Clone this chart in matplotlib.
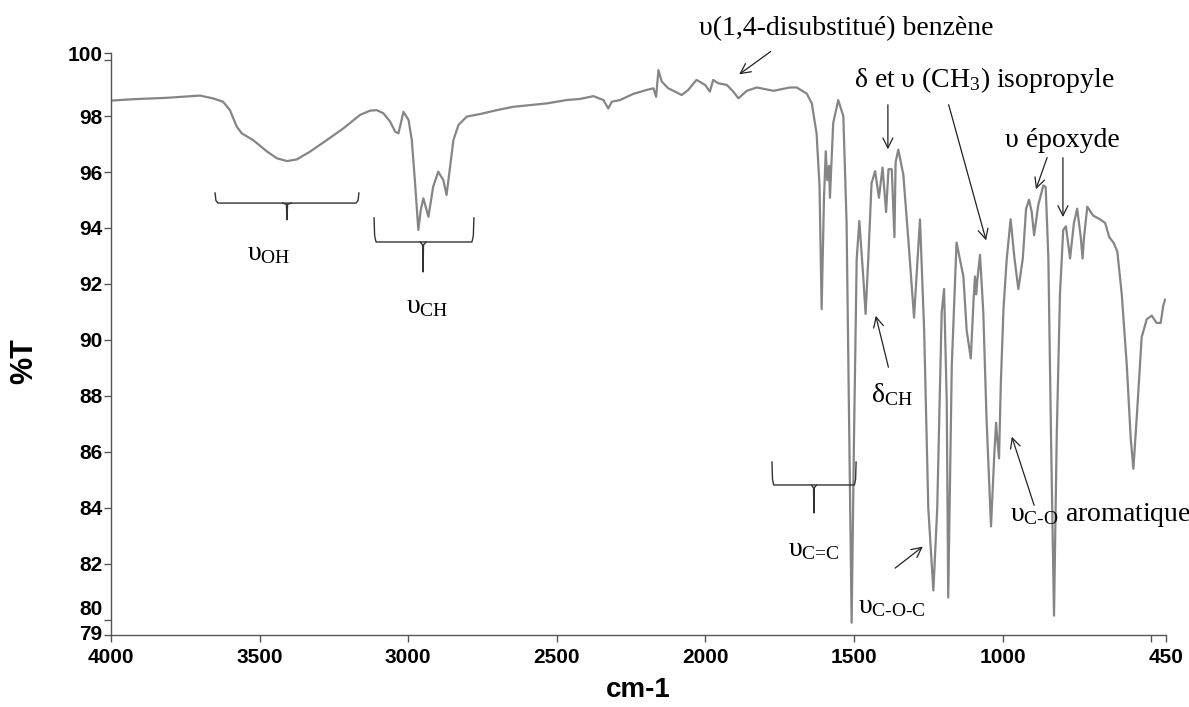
import matplotlib
matplotlib.use('Agg')
import matplotlib.pyplot as plt
from matplotlib import font_manager
from matplotlib.transforms import ScaledTranslation
import numpy as np

# IR spectrum (wavenumber cm-1, %T)
wavenumber = [4000, 3926, 3812, 3701, 3657, 3623, 3600, 3577, 3560, 3522,
              3475, 3442, 3408, 3375, 3330, 3274, 3218, 3162, 3129, 3106,
              3084, 3061, 3044, 3033, 3016, 2999, 2988, 2977, 2966, 2958,
              2949, 2932, 2916, 2899, 2882, 2871, 2859, 2848, 2831, 2803,
              2758, 2702, 2646, 2590, 2534, 2467, 2422, 2377, 2343, 2327,
              2315, 2287, 2243, 2198, 2175, 2166, 2158, 2147, 2125, 2102,
              2080, 2058, 2030, 2001, 1985, 1974, 1957, 1928, 1906, 1889,
              1861, 1827, 1771, 1715, 1693, 1659, 1642, 1626, 1616, 1609,
              1601, 1595, 1590, 1584, 1581, 1570, 1553, 1536, 1525, 1516,
              1508, 1500, 1491, 1482, 1469, 1461, 1452, 1441, 1429, 1416,
              1404, 1392, 1384, 1373, 1364, 1360, 1351, 1334, 1317, 1298,
              1278, 1264, 1250, 1233, 1220, 1205, 1197, 1188, 1183, 1171,
              1155, 1132, 1121, 1107, 1098, 1093, 1089, 1085, 1076, 1065,
              1054, 1039, 1028, 1022, 1018, 1012, 1006, 997, 986, 973,
              960, 947, 932, 921, 911, 902, 894, 880, 863, 855,
              846, 837, 827, 818, 807, 796, 787, 773, 760, 749,
              737, 731, 726, 715, 695, 672, 655, 641, 627, 614,
              599, 582, 569, 560, 549, 532, 515, 498, 482, 468,
              459, 453]
transmittance = [98.55, 98.60, 98.65, 98.73, 98.63, 98.51, 98.21, 97.62, 97.38, 97.14,
                 96.73, 96.49, 96.39, 96.45, 96.73, 97.14, 97.56, 98.04, 98.19, 98.21,
                 98.10, 97.80, 97.44, 97.38, 98.15, 97.86, 97.14, 95.60, 93.93, 94.64,
                 95.06, 94.40, 95.48, 96.01, 95.71, 95.18, 96.19, 97.14, 97.68, 97.98,
                 98.07, 98.21, 98.33, 98.39, 98.45, 98.57, 98.61, 98.71, 98.57, 98.27,
                 98.51, 98.57, 98.79, 98.93, 98.99, 98.69, 99.64, 99.23, 98.99, 98.87,
                 98.75, 98.93, 99.29, 99.11, 98.87, 99.29, 99.17, 99.11, 98.87, 98.63,
                 98.90, 99.02, 98.90, 99.02, 99.02, 98.80, 98.45, 97.38, 95.50, 91.10,
                 95.08, 96.74, 95.71, 96.22, 95.08, 97.75, 98.57, 98.00, 94.20, 86.50,
                 79.90, 86.50, 92.90, 94.25, 92.27, 90.93, 92.90, 95.60, 96.03, 95.08,
                 96.16, 94.57, 96.10, 96.10, 93.67, 96.35, 96.80, 95.90, 93.55, 90.80,
                 94.31, 90.35, 83.98, 81.05, 83.98, 91.00, 91.82, 87.80, 80.80, 89.08,
                 93.48, 92.27, 90.35, 89.34, 91.38, 92.27, 91.63, 92.14, 93.04, 91.00,
                 87.17, 83.34, 85.90, 87.04, 86.50, 85.77, 88.44, 91.12, 92.91, 94.31,
                 92.91, 91.82, 92.91, 94.69, 95.01, 94.57, 93.74, 94.82, 95.52, 95.46,
                 92.91, 86.50, 80.15, 86.50, 91.63, 93.93, 94.06, 92.91, 94.18, 94.69,
                 93.67, 92.91, 93.67, 94.76, 94.44, 94.31, 94.18, 93.67, 93.48, 93.16,
                 91.63, 89.08, 86.50, 85.40, 87.17, 90.10, 90.74, 90.87, 90.61, 90.61,
                 91.25, 91.44]

x_ticks = [4000, 3500, 3000, 2500, 2000, 1500, 1000, 500, 450]
x_ticklabels = ['4000', '3500', '3000', '2500', '2000', '1500', '1000', '', '450']
y_bottom, y_top = 79.46, 100.25
y_ticks = [y_bottom, 80, 82, 84, 86, 88, 90, 92, 94, 96, 98, 100, y_top]
y_ticklabels = ['79', '80', '82', '84', '86', '88', '90', '92', '94', '96', '98', '', '100']

plt.rcParams['mathtext.fontset'] = 'custom'
plt.rcParams['mathtext.rm'] = 'Liberation Serif'
plt.rcParams['mathtext.it'] = 'Liberation Serif:italic'
plt.rcParams['mathtext.bf'] = 'Liberation Serif:bold'

names = {f.name for f in font_manager.fontManager.ttflist}
if 'Liberation Sans Narrow' in names:
    tick_font, tick_size = 'Liberation Sans Narrow', 18
else:
    tick_font, tick_size = 'Liberation Sans', 15

fig = plt.figure(figsize=(11.89, 7.07), dpi=100)
ax = fig.add_axes([0.0934, 0.1018, 0.8873, 0.8232])

ax.plot(wavenumber, transmittance, color='#858585', lw=1.6)

ax.set_xlim(4000, 450)
ax.set_ylim(y_bottom, y_top)
ax.set_xticks(x_ticks)
ax.set_xticklabels(x_ticklabels)
ax.set_yticks(y_ticks)
ax.set_yticklabels(y_ticklabels)

for side in ['top', 'right']:
    ax.spines[side].set_visible(False)
for side in ['left', 'bottom']:
    ax.spines[side].set_color('#555555')
    ax.spines[side].set_linewidth(1.0)
ax.tick_params(direction='out', length=5, width=1, color='#555555', labelsize=tick_size)
ax.tick_params(axis='x', pad=4)
ax.tick_params(axis='y', pad=1)
for lab in ax.get_xticklabels() + ax.get_yticklabels():
    lab.set_fontfamily(tick_font)
    lab.set_fontweight('bold')
# "80" sits a bit higher so it does not touch "79"
lab80 = ax.get_yticklabels()[1]
lab80.set_transform(lab80.get_transform() + ScaledTranslation(0, 0.12, fig.dpi_scale_trans))
lab79 = ax.get_yticklabels()[0]
lab79.set_transform(lab79.get_transform() + ScaledTranslation(0, 0.03, fig.dpi_scale_trans))

ax.set_xlabel('cm-1', fontsize=20, fontweight='bold', family='Liberation Sans')
ax.set_ylabel('%T', fontsize=22, fontweight='bold', family='Liberation Sans')
ax.xaxis.set_label_coords(0.5, -0.072)
ax.yaxis.set_label_coords(-0.068, 0.47)

serif = dict(fontsize=20, family='Liberation Serif', color='black')
arrow = dict(arrowstyle='->', color='#222222', lw=0.9, mutation_scale=18)


def brace(x0, x1, xm, y, ytop, ybot):
    # curly bracket: raised ends, small stem in the middle
    dx = (x1 - x0) * 0.02
    dy = (ytop - y) * 0.25
    ax.plot([x0, x0 + dx * 0.3, x0 + dx, x1 - dx, x1 - dx * 0.3, x1],
            [ytop, y + dy, y, y, y + dy, ytop],
            color='#333333', lw=1.0, clip_on=False)
    ax.plot([xm - dx * 1.5, xm - dx * 0.2, xm, xm + dx * 0.2, xm + dx * 1.5],
            [y, y - dy * 0.5, ybot, y - dy * 0.5, y],
            color='#333333', lw=1.0, clip_on=False)


# OH and CH stretching
brace(3650, 3166, 3408, 94.89, 95.25, 94.29)
ax.text(3470, 93.1, 'υ$_{\\text{OH}}$', ha='center', va='center', **serif)
brace(3115, 2779, 2950, 93.50, 94.36, 92.43)
ax.text(2935, 91.18, 'υ$_{\\text{CH}}$', ha='center', va='center', **serif)

# C=C
brace(1776, 1493, 1635, 84.82, 85.64, 83.82)
ax.text(1635, 82.5, 'υ$_{\\text{C=C}}$', ha='center', va='center', **serif)

# benzene
ax.text(1527, 101.14, 'υ(1,4-disubstitué) benzène', ha='center', va='center', **serif)
ax.annotate('', xy=(1894, 99.43), xytext=(1773, 100.36), arrowprops=arrow,
            annotation_clip=False)

# isopropyl
ax.text(1063, 99.29, 'δ et υ (CH$_{\\text{3}}$) isopropyle', ha='center', va='center', **serif)
ax.annotate('', xy=(1386, 96.71), xytext=(1386, 98.5), arrowprops=arrow)
ax.annotate('', xy=(1053, 93.46), xytext=(1184, 98.5), arrowprops=arrow)

# epoxide
ax.text(800, 97.14, 'υ époxyde', ha='center', va='center', **serif)
ax.annotate('', xy=(891, 95.29), xytext=(847, 96.61), arrowprops=arrow)
ax.annotate('', xy=(797, 94.29), xytext=(797, 96.61), arrowprops=arrow)

# CH bending
ax.text(1372, 88.05, 'δ$_{\\text{CH}}$', ha='center', va='center', **serif)
ax.annotate('', xy=(1429, 90.96), xytext=(1382, 88.93), arrowprops=arrow)

# C-O-C
ax.text(1372, 80.46, 'υ$_{\\text{C-O-C}}$', ha='center', va='center', **serif)
ax.annotate('', xy=(1261, 82.68), xytext=(1369, 81.79), arrowprops=arrow)

# aromatic C-O
ax.text(976, 83.75, 'υ$_{\\text{C-O}}$ aromatique', ha='left', va='center', **serif)
ax.annotate('', xy=(972, 86.64), xytext=(891, 84.0), arrowprops=arrow)

fig.savefig('out.png', dpi=100)
